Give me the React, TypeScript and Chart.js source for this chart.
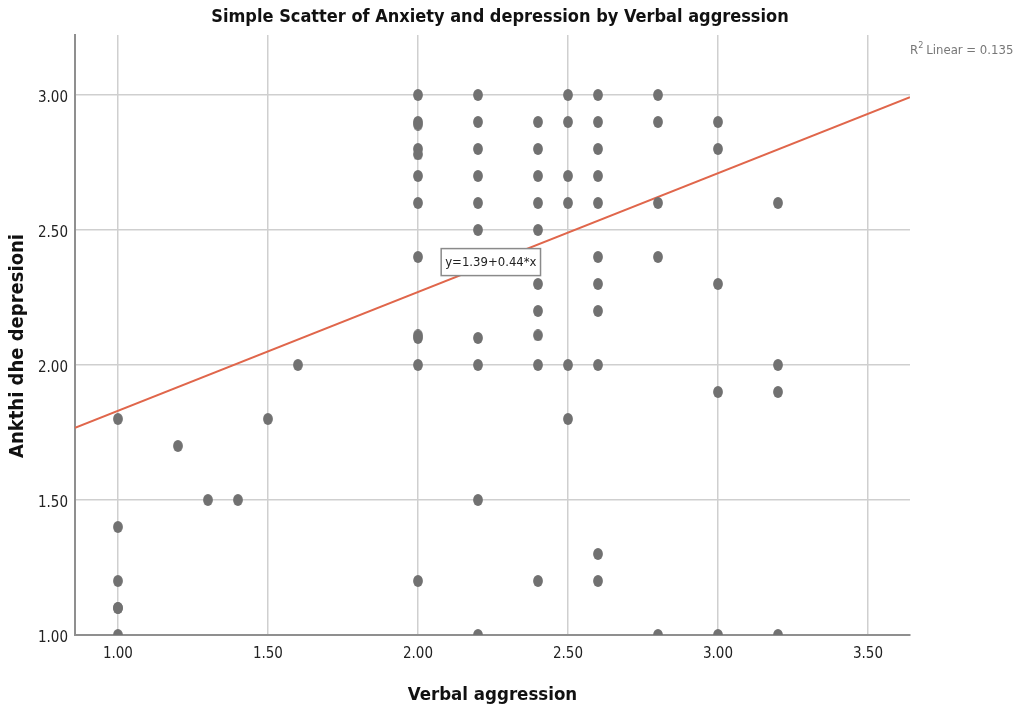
import React, { useEffect, useRef } from "react";
import { Chart, registerables } from "chart.js";

Chart.register(...registerables);

const chartTitle = "Simple Scatter of Anxiety and depression by Verbal aggression";
const xAxisTitle = "Verbal aggression";
const yAxisTitle = "Ankthi dhe depresioni";
const fitLabel = "y=1.39+0.44*x";
const r2Label = "Linear = 0.135";

// Verbal aggression (x) and Anxiety/depression (y) for each respondent
const verbalAggression = [
  1.0, 1.0, 1.0, 1.0, 1.0, 1.0,
  1.2, 1.3, 1.4, 1.5, 1.6,
  2.0, 2.0, 2.0, 2.0, 2.0, 2.0, 2.0, 2.0, 2.0, 2.0, 2.0, 2.0,
  2.2, 2.2, 2.2, 2.2, 2.2, 2.2, 2.2, 2.2, 2.2, 2.2,
  2.4, 2.4, 2.4, 2.4, 2.4, 2.4, 2.4, 2.4, 2.4, 2.4,
  2.5, 2.5, 2.5, 2.5, 2.5, 2.5,
  2.6, 2.6, 2.6, 2.6, 2.6, 2.6, 2.6, 2.6, 2.6, 2.6, 2.6,
  2.8, 2.8, 2.8, 2.8, 2.8,
  3.0, 3.0, 3.0, 3.0, 3.0,
  3.2, 3.2, 3.2, 3.2,
];
const anxietyDepression = [
  1.8, 1.4, 1.2, 1.1, 1.1, 1.0,
  1.7, 1.5, 1.5, 1.8, 2.0,
  3.0, 2.9, 2.89, 2.8, 2.78, 2.7, 2.6, 2.4, 2.1, 2.11, 2.0, 1.2,
  3.0, 2.9, 2.8, 2.7, 2.6, 2.5, 2.1, 2.0, 1.5, 1.0,
  2.9, 2.8, 2.7, 2.6, 2.5, 2.3, 2.2, 2.11, 2.0, 1.2,
  3.0, 2.9, 2.7, 2.6, 2.0, 1.8,
  3.0, 2.9, 2.8, 2.7, 2.6, 2.4, 2.3, 2.2, 2.0, 1.3, 1.2,
  3.0, 2.9, 2.6, 2.4, 1.0,
  2.9, 2.8, 2.3, 1.9, 1.0,
  2.6, 2.0, 1.9, 1.0,
];

const fitIntercept = [1.39];
const fitSlope = [0.44];

const xTicks = [1.0, 1.5, 2.0, 2.5, 3.0, 3.5];
const yTicks = [1.0, 1.5, 2.0, 2.5, 3.0];
const xRange = [0.857, 3.64];
const yRange = [1.0, 3.222];
const fitLabelAt = [2.243, 2.381];

const FONT = "'Liberation Sans Narrow', 'Arial Narrow', 'DejaVu Sans Condensed', 'Liberation Sans', sans-serif";

function makeDot(): HTMLCanvasElement {
  const c = document.createElement("canvas");
  c.width = 10;
  c.height = 12;
  const g = c.getContext("2d")!;
  g.fillStyle = "#717171";
  g.beginPath();
  g.ellipse(5, 6, 4.9, 5.9, 0, 0, Math.PI * 2);
  g.fill();
  return c;
}

const textPlugin = {
  id: "spssText",
  afterDatasetsDraw(chart: any) {
    const { ctx, scales } = chart;
    const xs = scales.x;
    const ys = scales.y;
    ctx.save();
    const cx = xs.getPixelForValue(fitLabelAt[0]);
    const cy = ys.getPixelForValue(fitLabelAt[1]);
    ctx.font = `13px ${FONT}`;
    const tw = ctx.measureText(fitLabel).width;
    const bw = tw + 8;
    const bh = 27;
    ctx.fillStyle = "#ffffff";
    ctx.fillRect(cx - bw / 2, cy - bh / 2, bw, bh);
    ctx.strokeStyle = "#8a8a8a";
    ctx.lineWidth = 1.5;
    ctx.strokeRect(cx - bw / 2, cy - bh / 2, bw, bh);
    ctx.fillStyle = "#222";
    ctx.textAlign = "center";
    ctx.textBaseline = "middle";
    ctx.fillText(fitLabel, cx, cy + 1);
    ctx.restore();
  },
  afterDraw(chart: any) {
    const { ctx, chartArea } = chart;
    ctx.save();
    ctx.fillStyle = "#111";
    ctx.textAlign = "center";
    ctx.textBaseline = "middle";
    ctx.font = `bold 18px ${FONT}`;
    ctx.fillText(chartTitle, 500, 17);

    ctx.font = `bold 18.5px ${FONT}`;
    ctx.fillText(xAxisTitle, (chartArea.left + chartArea.right) / 2, 695);

    ctx.save();
    ctx.translate(18, 346);
    ctx.rotate(-Math.PI / 2);
    ctx.font = `bold 20px ${FONT}`;
    ctx.fillText(yAxisTitle, 0, 0);
    ctx.restore();

    ctx.fillStyle = "#777";
    ctx.textAlign = "left";
    ctx.textBaseline = "alphabetic";
    ctx.font = `13px ${FONT}`;
    let x = 910;
    const y = 54;
    ctx.fillText("R", x, y);
    x += ctx.measureText("R").width;
    ctx.font = `9px ${FONT}`;
    ctx.fillText("2", x, y - 6);
    x += ctx.measureText("2").width + 3;
    ctx.font = `13px ${FONT}`;
    ctx.fillText(r2Label, x, y);
    ctx.restore();
  },
};

export default function App() {
  const ref = useRef<HTMLCanvasElement | null>(null);
  useEffect(() => {
    if (!ref.current) return;
    const dot = makeDot();
    const points = verbalAggression.map((v, i) => ({ x: v, y: anxietyDepression[i] }));
    const linePts = xRange.map((v) => ({ x: v, y: fitIntercept[0] + fitSlope[0] * v }));
    const chart = new Chart(ref.current, {
      type: "scatter",
      data: {
        datasets: [
          {
            label: "points",
            data: points,
            pointStyle: dot as any,
            pointRadius: 5,
            backgroundColor: "#717171",
            borderWidth: 0,
          },
          {
            label: "fit",
            type: "line",
            data: linePts,
            borderColor: "#e0664b",
            borderWidth: 2,
            pointRadius: 0,
            fill: false,
          } as any,
        ],
      },
      options: {
        animation: false,
        responsive: false,
        maintainAspectRatio: false,
        events: [],
        layout: { padding: { top: 35, right: 113, left: 0, bottom: 0 } },
        plugins: {
          legend: { display: false },
          title: { display: false },
          tooltip: { enabled: false },
        },
        scales: {
          x: {
            type: "linear",
            min: xRange[0],
            max: xRange[1],
            afterFit: (s: any) => {
              s.height = 77;
            },
            afterBuildTicks: (s: any) => {
              s.ticks = xTicks.map((v) => ({ value: v }));
            },
            grid: { color: "#cfcfcf", lineWidth: 1.5, drawTicks: false },
            border: { display: true, color: "#8f8f8f", width: 2 },
            ticks: {
              color: "#222",
              font: { family: FONT, size: 15 },
              padding: 10,
              maxRotation: 0,
              autoSkip: false,
              callback: (v: any) => Number(v).toFixed(2),
            },
          },
          y: {
            type: "linear",
            min: yRange[0],
            max: yRange[1],
            afterFit: (s: any) => {
              s.width = 75;
            },
            afterBuildTicks: (s: any) => {
              s.ticks = yTicks.map((v) => ({ value: v }));
            },
            grid: { color: "#cfcfcf", lineWidth: 1.5, drawTicks: false },
            border: { display: true, color: "#8f8f8f", width: 2 },
            ticks: {
              color: "#222",
              font: { family: FONT, size: 15 },
              padding: 7,
              labelOffset: 3,
              autoSkip: false,
              callback: (v: any) => Number(v).toFixed(2),
            },
          },
        },
      },
      plugins: [textPlugin],
    });
    return () => chart.destroy();
  }, []);
  return (
    <div style={{ position: "absolute", left: 0, top: 0, width: 1023, height: 712, background: "#fff" }}>
      <canvas ref={ref} width={1023} height={712} style={{ width: 1023, height: 712, display: "block" }} />
    </div>
  );
}
